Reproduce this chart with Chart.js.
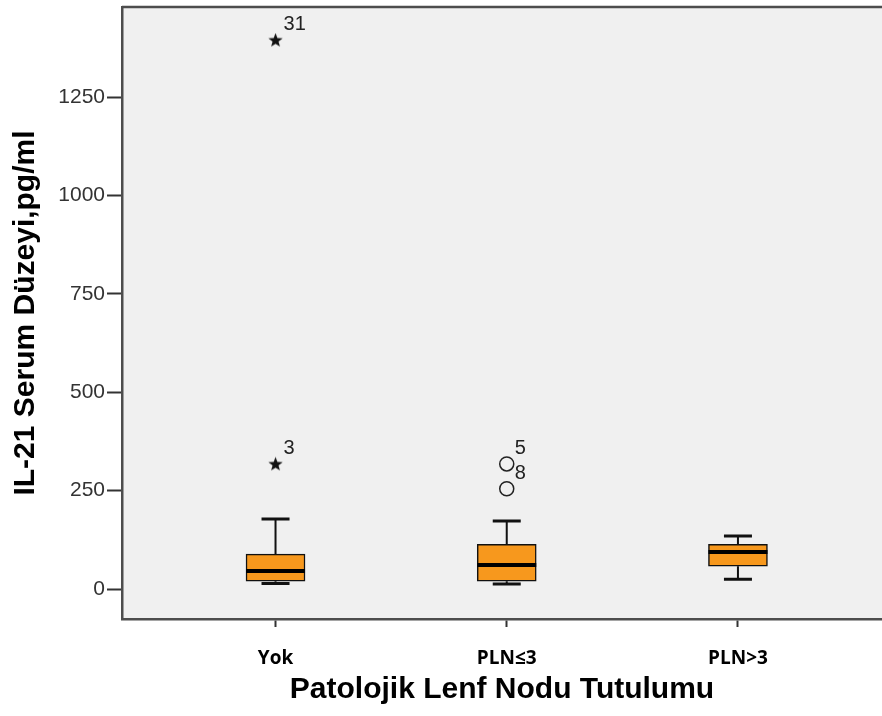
<!DOCTYPE html>
<html>
<head>
<meta charset="utf-8">
<script src="https://cdn.jsdelivr.net/npm/chart.js@4.4.0/dist/chart.umd.min.js"></script>
<style>
  html, body { margin: 0; padding: 0; background: #fff; }
  #box { width: 882px; height: 716px; }
</style>
</head>
<body>
<div id="box"><canvas id="boxChart" width="882" height="716"></canvas></div>
<script>
// groups and box statistics (pg/ml)
const categories = ['Yok', 'PLN≤3', 'PLN>3'];
const whiskerLow = [14, 13, 25];
const q1 = [20, 20, 58];
const median = [46, 61, 94];
const q3 = [89, 114, 114];
const whiskerHigh = [178, 173, 135];

// extreme values (stars) and outliers (circles) with case numbers
const extremeGroup = [0, 0];
const extremeValue = [1395, 318];
const extremeCase = ['31', '3'];
const outlierGroup = [1, 1];
const outlierValue = [318, 255];
const outlierCase = ['5', '8'];

const yTicks = [0, 250, 500, 750, 1000, 1250];

// filled five point star, like the SPSS extreme marker
function makeStar(size) {
    const c = document.createElement('canvas');
    c.width = size; c.height = size;
    const g = c.getContext('2d');
    const r1 = size / 2, r2 = size / 4.8, cx = size / 2, cy = size / 2 + 0.5;
    g.beginPath();
    for (let k = 0; k < 10; k++) {
        const r = k % 2 === 0 ? r1 : r2;
        const a = -Math.PI / 2 + k * Math.PI / 5;
        g.lineTo(cx + r * Math.cos(a), cy + r * Math.sin(a));
    }
    g.closePath();
    g.fillStyle = '#111';
    g.fill();
    return c;
}
const starImg = makeStar(15);

const boxExtras = {
    id: 'boxExtras',
    beforeDraw(chart) {
        const a = chart.chartArea, ctx = chart.ctx;
        ctx.save();
        ctx.fillStyle = '#f0f0f0';
        ctx.fillRect(a.left, a.top, a.right - a.left, a.bottom - a.top);
        ctx.restore();
    },
    afterDatasetsDraw(chart) {
        const ctx = chart.ctx, x = chart.scales.x, y = chart.scales.y;
        const bars = chart.getDatasetMeta(0).data;
        ctx.save();
        ctx.strokeStyle = '#111';
        ctx.lineCap = 'butt';
        categories.forEach(function(c, i) {
            const px = x.getPixelForValue(i);
            const half = bars[i].width / 2;
            const cap = 14;
            ctx.lineWidth = 2;
            ctx.beginPath();
            ctx.moveTo(px, y.getPixelForValue(q3[i]));
            ctx.lineTo(px, y.getPixelForValue(whiskerHigh[i]));
            ctx.moveTo(px, y.getPixelForValue(q1[i]));
            ctx.lineTo(px, y.getPixelForValue(whiskerLow[i]));
            ctx.stroke();
            ctx.lineWidth = 3;
            ctx.beginPath();
            ctx.moveTo(px - cap, y.getPixelForValue(whiskerHigh[i]));
            ctx.lineTo(px + cap, y.getPixelForValue(whiskerHigh[i]));
            ctx.moveTo(px - cap, y.getPixelForValue(whiskerLow[i]));
            ctx.lineTo(px + cap, y.getPixelForValue(whiskerLow[i]));
            ctx.stroke();
            // median
            ctx.lineWidth = 4;
            ctx.strokeStyle = '#000';
            ctx.beginPath();
            ctx.moveTo(px - half, y.getPixelForValue(median[i]));
            ctx.lineTo(px + half, y.getPixelForValue(median[i]));
            ctx.stroke();
            ctx.strokeStyle = '#111';
        });
        // case labels next to the marks
        ctx.fillStyle = '#222';
        ctx.font = '20px "Liberation Sans", Arial, sans-serif';
        ctx.textAlign = 'left';
        ctx.textBaseline = 'alphabetic';
        [1, 2].forEach(function(d) {
            const ids = d === 1 ? extremeCase : outlierCase;
            chart.getDatasetMeta(d).data.forEach(function(pt, j) {
                ctx.fillText(ids[j], pt.x + 8, pt.y - 10);
            });
        });
        // top frame line
        const a = chart.chartArea;
        ctx.strokeStyle = '#4d4d4d';
        ctx.lineWidth = 2.5;
        ctx.beginPath();
        ctx.moveTo(a.left, a.top);
        ctx.lineTo(a.right, a.top);
        ctx.stroke();
        ctx.restore();
    }
};

new Chart(document.getElementById('boxChart'), {
    type: 'bar',
    data: {
        datasets: [{
            label: 'box',
            data: categories.map(function(c, i) { return { x: i, y: [q1[i], q3[i]] }; }),
            backgroundColor: '#f7981d',
            borderColor: '#111',
            borderWidth: 1.5,
            borderSkipped: false,
            barThickness: 59,
            order: 2
        }, {
            type: 'scatter',
            label: 'extreme',
            data: extremeValue.map(function(v, j) { return { x: extremeGroup[j], y: v }; }),
            pointStyle: starImg,
            pointRadius: 7,
            order: 1
        }, {
            type: 'scatter',
            label: 'outlier',
            data: outlierValue.map(function(v, j) { return { x: outlierGroup[j], y: v }; }),
            pointStyle: 'circle',
            pointRadius: 7,
            backgroundColor: 'rgba(0,0,0,0)',
            borderColor: '#222',
            borderWidth: 1.5,
            order: 1
        }]
    },
    options: {
        responsive: false,
        animation: false,
        layout: { autoPadding: false, padding: { top: 7, right: 0, left: 0, bottom: 0 } },
        plugins: {
            legend: { display: false },
            tooltip: { enabled: false }
        },
        scales: {
            x: {
                type: 'linear',
                offset: false,
                min: -0.664,
                max: 2.623,
                afterBuildTicks: function(scale) {
                    scale.ticks = categories.map(function(c, i) { return { value: i }; });
                },
                afterFit: function(scale) {
                    scale.height = 97;
                    scale.paddingLeft = 0;
                    scale.paddingRight = 0;
                },
                grid: { offset: false, drawOnChartArea: false, drawTicks: true, tickLength: 8, tickColor: '#333', tickWidth: 2 },
                border: { display: true, color: '#4d4d4d', width: 2.5 },
                ticks: {
                    color: '#000',
                    padding: 20,
                    maxRotation: 0,
                    font: { family: '"Open Sans", sans-serif', size: 19, weight: 'bold' },
                    callback: function(v) { return categories[v]; }
                },
                title: {
                    display: true,
                    text: 'Patolojik Lenf Nodu Tutulumu',
                    color: '#000',
                    padding: { top: 0, bottom: 8 },
                    font: { family: '"Liberation Sans", Arial, sans-serif', size: 30, weight: 'bold' }
                }
            },
            y: {
                min: -76,
                max: 1479,
                afterBuildTicks: function(scale) {
                    scale.ticks = yTicks.map(function(v) { return { value: v }; });
                },
                afterFit: function(scale) {
                    scale.width = 122;
                    scale.paddingTop = 0;
                    scale.paddingBottom = 0;
                },
                grid: { drawOnChartArea: false, drawTicks: true, tickLength: 15, tickColor: '#333', tickWidth: 2 },
                border: { display: true, color: '#4d4d4d', width: 2.5 },
                ticks: {
                    color: '#333',
                    padding: 2,
                    font: { family: '"Liberation Sans", Arial, sans-serif', size: 21 },
                    callback: function(v) { return String(v); }
                },
                title: {
                    display: true,
                    text: 'IL-21 Serum Düzeyi,pg/ml',
                    color: '#000',
                    padding: { top: 8, bottom: 0 },
                    font: { family: '"Liberation Sans", Arial, sans-serif', size: 30, weight: 'bold' }
                }
            }
        }
    },
    plugins: [boxExtras]
});
</script>
</body>
</html>
